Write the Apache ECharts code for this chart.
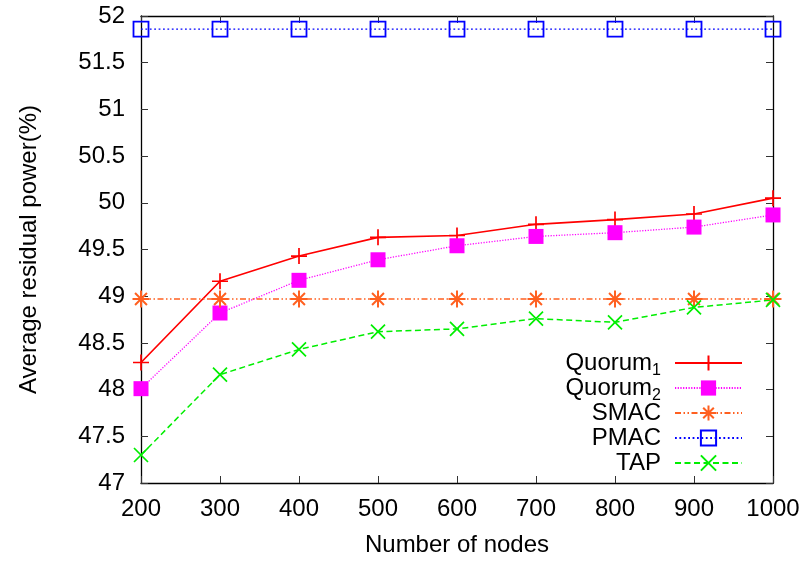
<!DOCTYPE html>
<html>
<head>
<meta charset="utf-8">
<script src="https://cdn.jsdelivr.net/npm/echarts@6/dist/echarts.min.js"></script>
<style>
  html, body { margin: 0; padding: 0; background: #fff; }
  #chart { width: 808px; height: 562px; }
</style>
</head>
<body>
<div id="chart"></div>
<script>
// Number of nodes on the x axis
var nodes = [200, 300, 400, 500, 600, 700, 800, 900, 1000];

// Average residual power (%) per protocol
var quorum1 = [48.29, 49.16, 49.43, 49.63, 49.65, 49.77, 49.82, 49.88, 50.05];
var quorum2 = [48.01, 48.82, 49.17, 49.39, 49.54, 49.64, 49.68, 49.74, 49.87];
var smac    = [48.97, 48.97, 48.97, 48.97, 48.97, 48.97, 48.97, 48.97, 48.97];
var pmac    = [51.86, 51.86, 51.86, 51.86, 51.86, 51.86, 51.86, 51.86, 51.86];
var tap     = [47.30, 48.16, 48.43, 48.62, 48.65, 48.76, 48.72, 48.88, 48.96];

var seriesNames = ['Quorum1', 'Quorum2', 'SMAC', 'PMAC', 'TAP'];

var FONT = '"Liberation Sans", Arial, sans-serif';
var FS = 24;

function pairs(values) {
  return nodes.map(function (n, i) { return [n, values[i]]; });
}

// stroke-only marker shapes
var PLUS = 'path://M5,0L5,10M0,5L10,5';
var CROSS = 'path://M0,0L10,10M0,10L10,0';
var STAR = 'path://M5,0L5,10M0,5L10,5M1.5,1.5L8.5,8.5M1.5,8.5L8.5,1.5';
var BOX = 'path://M0,0L10,0L10,10L0,10Z';

function axisCommon(extra) {
  var base = {
    type: 'value',
    axisLine: { show: true, lineStyle: { color: '#000', width: 1.3 } },
    axisTick: { show: true, inside: true, length: 7, lineStyle: { color: '#333', width: 1 } },
    splitLine: { show: false },
    axisLabel: { color: '#000', fontFamily: FONT, fontSize: FS }
  };
  for (var k in extra) base[k] = extra[k];
  return base;
}

var chart = echarts.init(document.getElementById('chart'), null, { renderer: 'canvas' });

chart.setOption({
  animation: false,
  backgroundColor: '#fff',
  grid: { left: 141, right: 35, top: 16, bottom: 79, containLabel: false },
  xAxis: [
    axisCommon({
      min: 200, max: 1000, interval: 100, position: 'bottom',
      name: 'Number of nodes', nameLocation: 'middle', nameGap: 50,
      nameTextStyle: { color: '#000', fontFamily: FONT, fontSize: FS },
      axisLabel: {
        color: '#000', fontFamily: FONT, fontSize: FS, margin: 14,
        formatter: function (v) { return String(v); }
      }
    }),
    axisCommon({
      min: 200, max: 1000, interval: 100, position: 'top',
      axisLabel: { show: false }
    })
  ],
  yAxis: [
    axisCommon({
      min: 47, max: 52, interval: 0.5, position: 'left',
      name: 'Average residual power(%)', nameLocation: 'middle', nameGap: 100,
      nameTextStyle: { color: '#000', fontFamily: FONT, fontSize: FS },
      axisLabel: { color: '#000', fontFamily: FONT, fontSize: FS, margin: 16 }
    }),
    axisCommon({
      min: 47, max: 52, interval: 0.5, position: 'right',
      axisLabel: { show: false }
    })
  ],
  legend: {
    orient: 'vertical',
    right: 60,
    top: 342,
    align: 'right',
    itemWidth: 67,
    itemHeight: 19,
    itemGap: -7,
    data: seriesNames,
    formatter: function (name) {
      if (name === 'Quorum1') return '{t|Quorum}{s|1}';
      if (name === 'Quorum2') return '{t|Quorum}{s|2}';
      return '{t|' + name + '}';
    },
    textStyle: {
      color: '#000',
      fontFamily: FONT,
      fontSize: FS,
      lineHeight: 32,
      padding: [0, 9, 0, 0],
      rich: {
        t: { fontFamily: FONT, fontSize: FS, color: '#000', lineHeight: 32 },
        s: { fontFamily: FONT, fontSize: 16, color: '#000', lineHeight: 16, verticalAlign: 'bottom' }
      }
    }
  },
  series: [
    {
      name: 'Quorum1', type: 'line', data: pairs(quorum1),
      symbol: PLUS, symbolSize: 16,
      lineStyle: { color: '#ff0000', width: 1.7, type: 'solid' },
      itemStyle: { color: '#ff0000', borderColor: '#ff0000', borderWidth: 1.7 }
    },
    {
      name: 'Quorum2', type: 'line', data: pairs(quorum2),
      symbol: 'rect', symbolSize: 15,
      lineStyle: { color: '#ff00ff', width: 1.3, type: [1.2, 1.5] },
      itemStyle: { color: '#ff00ff', borderWidth: 0 }
    },
    {
      name: 'SMAC', type: 'line', data: pairs(smac),
      symbol: STAR, symbolSize: 17,
      lineStyle: { color: '#ff6020', width: 1.5, type: [6, 2.5, 1.5, 2.5, 1.5, 2.5] },
      itemStyle: { color: '#ff6020', borderColor: '#ff6020', borderWidth: 2 }
    },
    {
      name: 'PMAC', type: 'line', data: pairs(pmac),
      symbol: BOX, symbolSize: 15,
      lineStyle: { color: '#0000ff', width: 1.4, type: [1.8, 2.6] },
      itemStyle: { color: 'rgba(0,0,0,0)', borderColor: '#0000ff', borderWidth: 1.8 }
    },
    {
      name: 'TAP', type: 'line', data: pairs(tap),
      symbol: CROSS, symbolSize: 14,
      lineStyle: { color: '#00ee00', width: 1.5, type: [6, 3.5] },
      itemStyle: { color: '#00ee00', borderColor: '#00ee00', borderWidth: 1.7 }
    }
  ]
});
</script>
</body>
</html>
